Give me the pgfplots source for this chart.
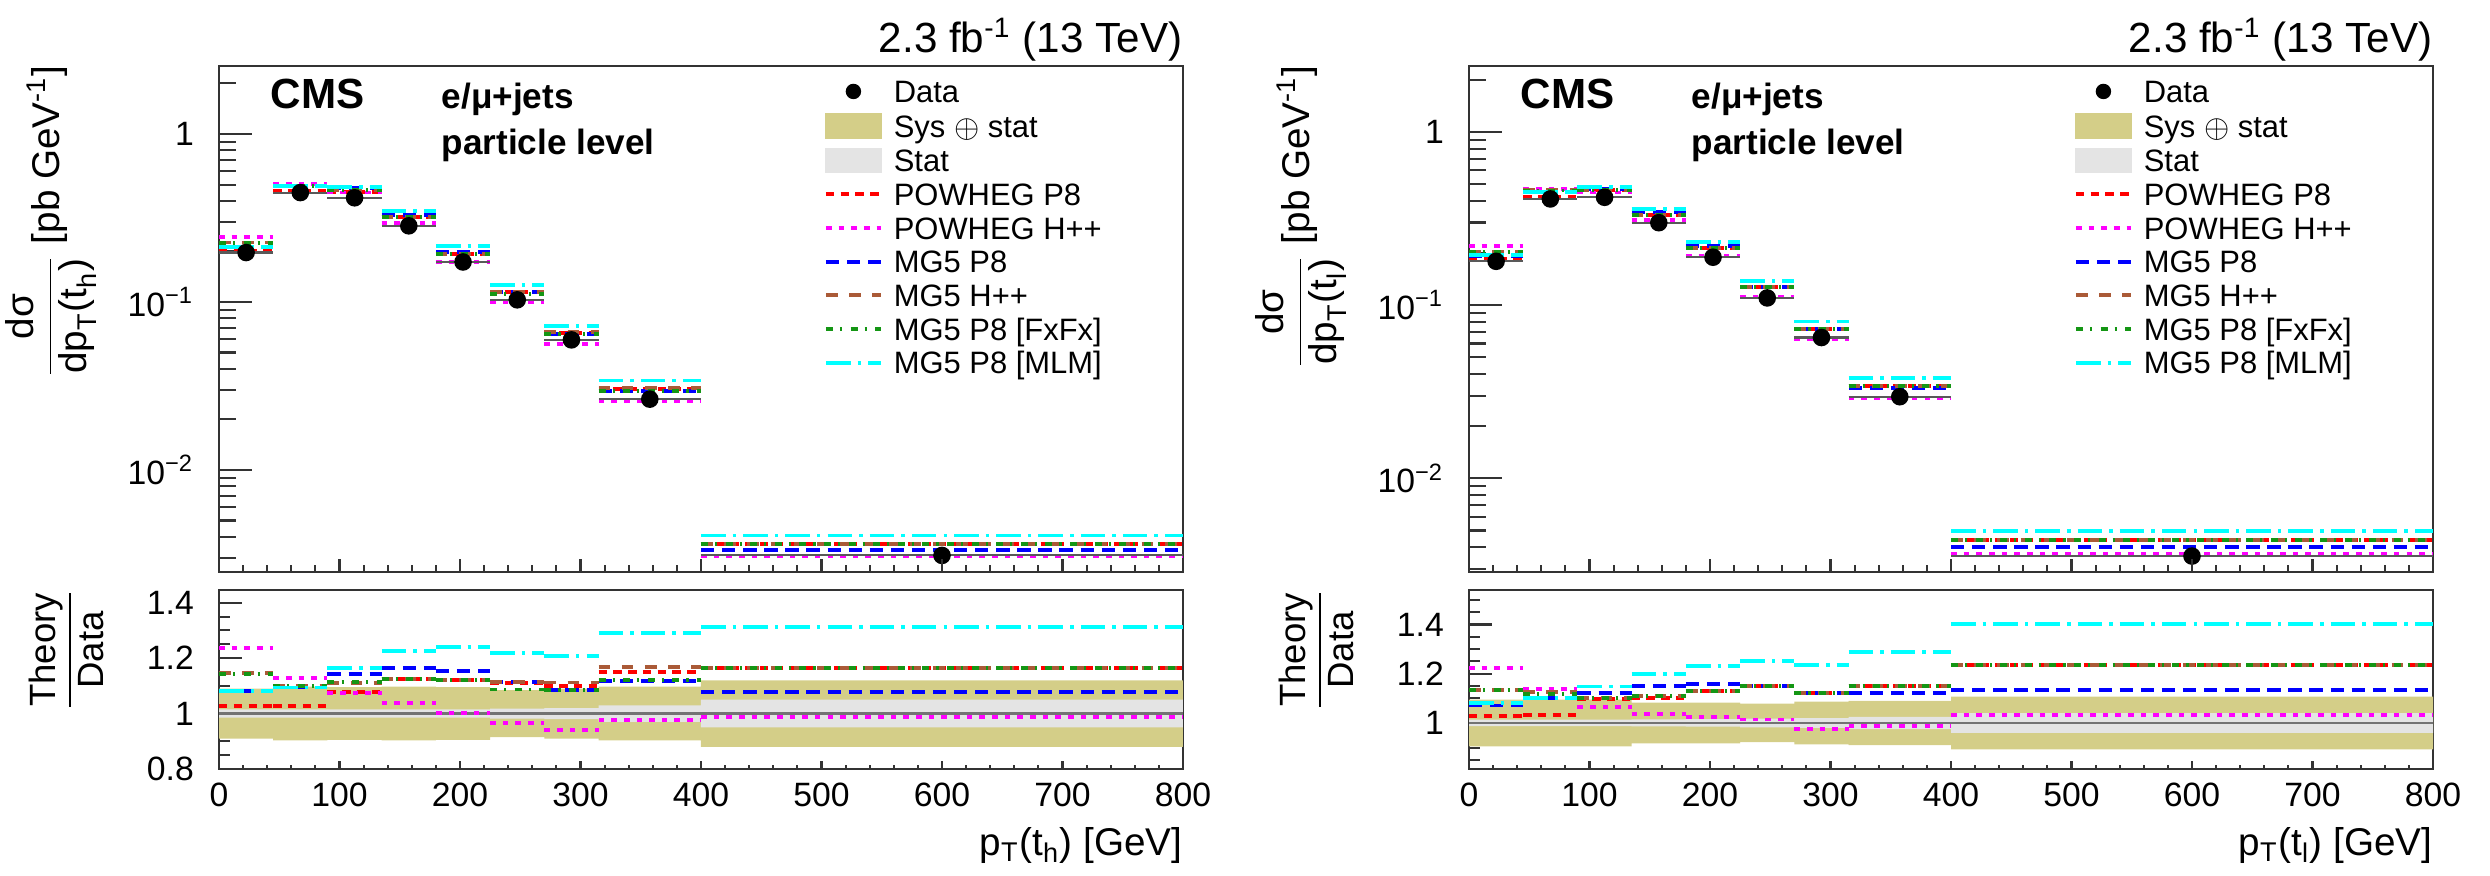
\documentclass[border=0pt]{standalone}
\usepackage{amsmath}
\usepackage{fontspec}
\setmainfont{Liberation Sans}
\usepackage{pgfplots}
\pgfplotsset{compat=1.18}

\definecolor{khaki}{RGB}{212,206,136}
\definecolor{statgray}{RGB}{228,228,228}
\definecolor{cmsred}{RGB}{255,0,0}
\definecolor{cmsmag}{RGB}{255,0,255}
\definecolor{cmsblue}{RGB}{0,0,255}
\definecolor{cmsbrown}{RGB}{170,90,55}
\definecolor{cmsgreen}{RGB}{20,150,20}
\definecolor{cmscyan}{RGB}{0,255,255}

\tikzset{
  powp8/.style={cmsred, line width=1.1pt, dash pattern=on 2.4pt off 1.8pt},
  powhw/.style={cmsmag, line width=1.1pt, dash pattern=on 1.6pt off 2pt},
  mgp8/.style={cmsblue, line width=1.1pt, dash pattern=on 3.8pt off 2.2pt},
  mghw/.style={cmsbrown, line width=1.1pt, dash pattern=on 3.3pt off 3.3pt},
  fxfx/.style={cmsgreen, line width=1.1pt, dash pattern=on 2pt off 2pt on 0.6pt off 2.4pt},
  mlm/.style={cmscyan, line width=1.1pt, dash pattern=on 7pt off 2pt on 1pt off 2pt},
}

\pgfplotsset{
  mybase/.style={
    scale only axis, width=96.4mm, xmin=0, xmax=800,
    axis line style={black!80, line width=0.7pt},
    tick style={black!80, line width=0.6pt},
    tick align=inside, xtick pos=left, ytick pos=left,
    tick label style={font=\fontsize{9.6}{11}\selectfont},
    yticklabel style={inner sep=0pt, xshift=-2.45mm},
    xticklabel style={inner sep=0pt, yshift=-1.35mm},
  },
}

\begin{document}
\begin{tikzpicture}
\path[use as bounding box] (0,0) rectangle (249mm,-87.6mm);

% ================= LEFT MAIN =================
\begin{axis}[mybase, at={(21.9mm,-6.6mm)}, anchor=north west,
  height=50.6mm, ymode=log, ymin=0.00247, ymax=2.54, xtick=\empty,
  ytick={0.01,0.1,1}, yticklabels={10\textsuperscript{−2},10\textsuperscript{−1},1},
  minor ytick={0.003,0.004,0.005,0.006,0.007,0.008,0.009,0.02,0.03,0.04,0.05,0.06,0.07,0.08,0.09,0.2,0.3,0.4,0.5,0.6,0.7,0.8,0.9,2},
  major tick length=3.3mm, minor tick length=1.7mm,
  legend style={draw=none, fill=none, inner sep=0pt, outer sep=0pt,
      at={(0.6276,0.9731)}, anchor=north west,
      font=\fontsize{8.8}{10}\selectfont,
      nodes={inner sep=0pt, text height=2.3mm, text depth=1.07mm},
      column sep=1.1mm, row sep=0pt},
  legend cell align=left,
  legend image code/.code={\draw[#1] (0cm,0.05cm) -- (0.55cm,0.05cm);}]
\addlegendimage{legend image code/.code={\fill[black] (0.275cm,0.05cm) circle (0.07cm);}}
\addlegendentry{Data}
\addlegendimage{legend image code/.code={\fill[khaki] (0cm,-0.07cm) rectangle (0.55cm,0.17cm);}}
\addlegendentry{Sys $\oplus$ stat}
\addlegendimage{legend image code/.code={\fill[statgray] (0cm,-0.07cm) rectangle (0.55cm,0.17cm);}}
\addlegendentry{Stat}
\addlegendimage{powp8}\addlegendentry{POWHEG P8}
\addlegendimage{powhw}\addlegendentry{POWHEG H++}
\addlegendimage{mgp8}\addlegendentry{MG5 P8}
\addlegendimage{mghw}\addlegendentry{MG5 H++}
\addlegendimage{fxfx}\addlegendentry{MG5 P8 [FxFx]}
\addlegendimage{mlm}\addlegendentry{MG5 P8 [MLM]}
\addplot[powp8, jump mark left, forget plot] coordinates {(0,0.2025)(45,0.4605)(90,0.4499)(135,0.3192)(180,0.1938)(225,0.1142)(270,0.0655)(315,0.0303)(400,0.00361)(800,0.00361)};
\addplot[powhw, jump mark left, forget plot] coordinates {(0,0.2435)(45,0.5058)(90,0.4483)(135,0.2951)(180,0.1733)(225,0.0995)(270,0.0559)(315,0.0258)(400,0.00306)(800,0.00306)};
\addplot[mgp8, jump mark left, forget plot] coordinates {(0,0.2134)(45,0.4901)(90,0.4766)(135,0.3309)(180,0.1995)(225,0.1148)(270,0.0646)(315,0.0295)(400,0.00334)(800,0.00334)};
\addplot[mghw, jump mark left, forget plot] coordinates {(0,0.2260)(45,0.4924)(90,0.4633)(135,0.3192)(180,0.1938)(225,0.1148)(270,0.0662)(315,0.0308)(400,0.00361)(800,0.00361)};
\addplot[fxfx, jump mark left, forget plot] coordinates {(0,0.2250)(45,0.4924)(90,0.4650)(135,0.3192)(180,0.1938)(225,0.1120)(270,0.0646)(315,0.0296)(400,0.00361)(800,0.00361)};
\addplot[mlm, jump mark left, forget plot] coordinates {(0,0.2130)(45,0.4901)(90,0.4858)(135,0.3482)(180,0.2143)(225,0.1257)(270,0.0719)(315,0.0341)(400,0.00407)(800,0.00407)};
\addplot[black!65, line width=0.6pt, jump mark left, forget plot] coordinates {(0,0.197)(45,0.448)(90,0.417)(135,0.284)(180,0.173)(225,0.103)(270,0.0595)(315,0.0264)(400,0.0031)(800,0.0031)};
\addplot[black, only marks, mark=*, mark size=2.3pt, forget plot] coordinates {(22.5,0.197)(67.5,0.448)(112.5,0.417)(157.5,0.284)(202.5,0.173)(247.5,0.103)(292.5,0.0595)(357.5,0.0264)(600,0.0031)};
\end{axis}
\begin{axis}[mybase, at={(21.9mm,-6.6mm)}, anchor=north west,
  height=50.6mm, ymode=log, ymin=0.00247, ymax=2.54, ytick=\empty, axis line style={draw=none},
  xtick={0,100,...,800}, minor x tick num=4, xticklabels={},
  major tick length=1.3mm, minor tick length=0.7mm]
\end{axis}

% ================= LEFT RATIO =================
\begin{axis}[mybase, at={(21.9mm,-59.0mm)}, anchor=north west,
  height=17.9mm, xtick=\empty, major tick length=2.3mm, minor tick length=1.1mm,
  ymin=0.8, ymax=1.446, ytick={0.8,1,1.2,1.4}, yticklabels={0.8,1,1.2,1.4},
  minor ytick={0.85,0.9,0.95,1.05,1.1,1.15,1.25,1.3,1.35}]
\addplot[fill=khaki, draw=none, forget plot] coordinates {(0,1.09)(45,1.09)(45,1.097)(90,1.097)(90,1.095)(135,1.095)(135,1.097)(180,1.097)(180,1.095)(225,1.095)(225,1.085)(270,1.085)(270,1.09)(315,1.09)(315,1.097)(400,1.097)(400,1.12)(800,1.12)(800,0.88)(400,0.88)(400,0.903)(315,0.903)(315,0.91)(270,0.91)(270,0.915)(225,0.915)(225,0.905)(180,0.905)(180,0.903)(135,0.903)(135,0.905)(90,0.905)(90,0.903)(45,0.903)(45,0.91)(0,0.91)} -- cycle;
\addplot[fill=statgray, draw=none, forget plot] coordinates {(0,1.015)(225,1.015)(225,1.018)(270,1.018)(270,1.02)(315,1.02)(315,1.03)(400,1.03)(400,1.05)(800,1.05)(800,0.95)(400,0.95)(400,0.97)(315,0.97)(315,0.98)(270,0.98)(270,0.982)(225,0.982)(225,0.985)(0,0.985)} -- cycle;
\addplot[black!55, line width=0.8pt, forget plot] coordinates {(0,1)(800,1)};
\addplot[powp8, jump mark left, forget plot] coordinates {(0,1.028)(45,1.028)(90,1.079)(135,1.124)(180,1.120)(225,1.109)(270,1.100)(315,1.149)(400,1.163)(800,1.163)};
\addplot[powhw, jump mark left, forget plot] coordinates {(0,1.236)(45,1.129)(90,1.075)(135,1.039)(180,1.002)(225,0.966)(270,0.940)(315,0.978)(400,0.988)(800,0.988)};
\addplot[mgp8, jump mark left, forget plot] coordinates {(0,1.083)(45,1.094)(90,1.143)(135,1.165)(180,1.153)(225,1.115)(270,1.085)(315,1.117)(400,1.079)(800,1.079)};
\addplot[mghw, jump mark left, forget plot] coordinates {(0,1.147)(45,1.099)(90,1.111)(135,1.124)(180,1.120)(225,1.115)(270,1.112)(315,1.167)(400,1.163)(800,1.163)};
\addplot[fxfx, jump mark left, forget plot] coordinates {(0,1.142)(45,1.099)(90,1.115)(135,1.124)(180,1.120)(225,1.087)(270,1.085)(315,1.121)(400,1.163)(800,1.163)};
\addplot[mlm, jump mark left, forget plot] coordinates {(0,1.081)(45,1.094)(90,1.165)(135,1.226)(180,1.239)(225,1.220)(270,1.209)(315,1.290)(400,1.312)(800,1.312)};
\end{axis}
\begin{axis}[mybase, at={(21.9mm,-59.0mm)}, anchor=north west,
  height=17.9mm, ymin=0.8, ymax=1.446, ytick=\empty, axis line style={draw=none},
  xtick={0,100,...,800}, minor x tick num=4,
  xticklabels={0,100,200,300,400,500,600,700,800},
  major tick length=0.8mm, minor tick length=0.4mm]
\end{axis}

% ================= RIGHT MAIN =================
\begin{axis}[mybase, at={(146.9mm,-6.6mm)}, anchor=north west,
  height=50.6mm, ymode=log, ymin=0.00288, ymax=2.40, xtick=\empty,
  ytick={0.01,0.1,1}, yticklabels={10\textsuperscript{−2},10\textsuperscript{−1},1},
  minor ytick={0.003,0.004,0.005,0.006,0.007,0.008,0.009,0.02,0.03,0.04,0.05,0.06,0.07,0.08,0.09,0.2,0.3,0.4,0.5,0.6,0.7,0.8,0.9,2},
  major tick length=3.3mm, minor tick length=1.7mm,
  legend style={draw=none, fill=none, inner sep=0pt, outer sep=0pt,
      at={(0.6276,0.9731)}, anchor=north west,
      font=\fontsize{8.8}{10}\selectfont,
      nodes={inner sep=0pt, text height=2.3mm, text depth=1.07mm},
      column sep=1.1mm, row sep=0pt},
  legend cell align=left,
  legend image code/.code={\draw[#1] (0cm,0.05cm) -- (0.55cm,0.05cm);}]
\addlegendimage{legend image code/.code={\fill[black] (0.275cm,0.05cm) circle (0.07cm);}}
\addlegendentry{Data}
\addlegendimage{legend image code/.code={\fill[khaki] (0cm,-0.07cm) rectangle (0.55cm,0.17cm);}}
\addlegendentry{Sys $\oplus$ stat}
\addlegendimage{legend image code/.code={\fill[statgray] (0cm,-0.07cm) rectangle (0.55cm,0.17cm);}}
\addlegendentry{Stat}
\addlegendimage{powp8}\addlegendentry{POWHEG P8}
\addlegendimage{powhw}\addlegendentry{POWHEG H++}
\addlegendimage{mgp8}\addlegendentry{MG5 P8}
\addlegendimage{mghw}\addlegendentry{MG5 H++}
\addlegendimage{fxfx}\addlegendentry{MG5 P8 [FxFx]}
\addlegendimage{mlm}\addlegendentry{MG5 P8 [MLM]}
\addplot[powp8, jump mark left, forget plot] coordinates {(0,0.1838)(45,0.4239)(90,0.4592)(135,0.3298)(180,0.2136)(225,0.1266)(270,0.0730)(315,0.0341)(400,0.00440)(800,0.00440)};
\addplot[powhw, jump mark left, forget plot] coordinates {(0,0.2187)(45,0.4662)(90,0.4467)(135,0.3104)(180,0.1933)(225,0.1115)(270,0.0635)(315,0.0292)(400,0.00367)(800,0.00367)};
\addplot[mgp8, jump mark left, forget plot] coordinates {(0,0.1917)(45,0.4522)(90,0.4705)(135,0.3441)(180,0.2189)(225,0.1266)(270,0.0730)(315,0.0332)(400,0.00403)(800,0.00403)};
\addplot[mghw, jump mark left, forget plot] coordinates {(0,0.2028)(45,0.4621)(90,0.4609)(135,0.3319)(180,0.2136)(225,0.1266)(270,0.0730)(315,0.0341)(400,0.00440)(800,0.00440)};
\addplot[fxfx, jump mark left, forget plot] coordinates {(0,0.2028)(45,0.4588)(90,0.4609)(135,0.3319)(180,0.2136)(225,0.1266)(270,0.0730)(315,0.0341)(400,0.00440)(800,0.00440)};
\addplot[mlm, jump mark left, forget plot] coordinates {(0,0.1937)(45,0.4522)(90,0.4810)(135,0.3585)(180,0.2325)(225,0.1376)(270,0.0804)(315,0.0381)(400,0.00499)(800,0.00499)};
\addplot[black!65, line width=0.6pt, jump mark left, forget plot] coordinates {(0,0.179)(45,0.410)(90,0.419)(135,0.299)(180,0.189)(225,0.110)(270,0.065)(315,0.0296)(400,0.00356)(800,0.00356)};
\addplot[black, only marks, mark=*, mark size=2.3pt, forget plot] coordinates {(22.5,0.179)(67.5,0.410)(112.5,0.419)(157.5,0.299)(202.5,0.189)(247.5,0.110)(292.5,0.065)(357.5,0.0296)(600,0.00356)};
\end{axis}
\begin{axis}[mybase, at={(146.9mm,-6.6mm)}, anchor=north west,
  height=50.6mm, ymode=log, ymin=0.00288, ymax=2.40, ytick=\empty, axis line style={draw=none},
  xtick={0,100,...,800}, minor x tick num=4, xticklabels={},
  major tick length=1.3mm, minor tick length=0.7mm]
\end{axis}

% ================= RIGHT RATIO =================
\begin{axis}[mybase, at={(146.9mm,-59.0mm)}, anchor=north west,
  height=17.9mm, xtick=\empty, major tick length=2.3mm, minor tick length=1.1mm,
  ymin=0.813, ymax=1.54, ytick={1,1.2,1.4}, yticklabels={1,1.2,1.4},
  minor ytick={0.85,0.9,0.95,1.05,1.1,1.15,1.25,1.3,1.35,1.45,1.5}]
\addplot[fill=khaki, draw=none, forget plot] coordinates {(0,1.095)(135,1.095)(135,1.083)(225,1.083)(225,1.078)(270,1.078)(270,1.087)(315,1.087)(315,1.09)(400,1.09)(400,1.107)(800,1.107)(800,0.893)(400,0.893)(400,0.91)(315,0.91)(315,0.913)(270,0.913)(270,0.922)(225,0.922)(225,0.917)(135,0.917)(135,0.905)(0,0.905)} -- cycle;
\addplot[fill=statgray, draw=none, forget plot] coordinates {(0,1.013)(135,1.013)(135,1.014)(180,1.014)(180,1.015)(225,1.015)(225,1.018)(270,1.018)(270,1.02)(315,1.02)(315,1.025)(400,1.025)(400,1.04)(800,1.04)(800,0.96)(400,0.96)(400,0.975)(315,0.975)(315,0.98)(270,0.98)(270,0.982)(225,0.982)(225,0.985)(180,0.985)(180,0.986)(135,0.986)(135,0.987)(0,0.987)} -- cycle;
\addplot[black!55, line width=0.8pt, forget plot] coordinates {(0,1)(800,1)};
\addplot[powp8, jump mark left, forget plot] coordinates {(0,1.027)(45,1.034)(90,1.096)(135,1.103)(180,1.130)(225,1.151)(270,1.123)(315,1.151)(400,1.237)(800,1.237)};
\addplot[powhw, jump mark left, forget plot] coordinates {(0,1.222)(45,1.137)(90,1.066)(135,1.038)(180,1.023)(225,1.014)(270,0.977)(315,0.986)(400,1.032)(800,1.032)};
\addplot[mgp8, jump mark left, forget plot] coordinates {(0,1.071)(45,1.103)(90,1.123)(135,1.151)(180,1.158)(225,1.151)(270,1.123)(315,1.123)(400,1.133)(800,1.133)};
\addplot[mghw, jump mark left, forget plot] coordinates {(0,1.133)(45,1.127)(90,1.100)(135,1.110)(180,1.130)(225,1.151)(270,1.123)(315,1.151)(400,1.237)(800,1.237)};
\addplot[fxfx, jump mark left, forget plot] coordinates {(0,1.133)(45,1.119)(90,1.100)(135,1.110)(180,1.130)(225,1.151)(270,1.123)(315,1.151)(400,1.237)(800,1.237)};
\addplot[mlm, jump mark left, forget plot] coordinates {(0,1.082)(45,1.103)(90,1.148)(135,1.199)(180,1.230)(225,1.251)(270,1.237)(315,1.288)(400,1.401)(800,1.401)};
\end{axis}
\begin{axis}[mybase, at={(146.9mm,-59.0mm)}, anchor=north west,
  height=17.9mm, ymin=0.813, ymax=1.54, ytick=\empty, axis line style={draw=none},
  xtick={0,100,...,800}, minor x tick num=4,
  xticklabels={0,100,200,300,400,500,600,700,800},
  major tick length=0.8mm, minor tick length=0.4mm]
\end{axis}

% ================= TEXTS =================
\foreach \dx/\sub in {0mm/h,125mm/l}{
  \begin{scope}[xshift=\dx]
  \node[anchor=base east, inner sep=0pt, font=\fontsize{12}{14}\selectfont] at (118.3mm,-5.3mm) {2.3 fb\textsuperscript{-1} (13 TeV)};
  \node[anchor=base west, inner sep=0pt, font=\fontsize{12}{14}\selectfont\bfseries] at (27.0mm,-10.9mm) {CMS};
  \node[anchor=base west, inner sep=0pt, font=\fontsize{10}{12}\selectfont\bfseries] at (44.1mm,-10.9mm) {e/μ+jets};
  \node[anchor=base west, inner sep=0pt, font=\fontsize{10}{12}\selectfont\bfseries] at (44.1mm,-15.5mm) {particle level};
  \node[rotate=90, anchor=east, inner sep=0pt, font=\fontsize{11}{13}\selectfont] at (5.1mm,-6.5mm)
    {$\dfrac{\text{dσ}}{\text{dp}_{\text{T}}\text{(t}_{\text{\sub}}\text{)}}$ [pb GeV\textsuperscript{-1}]};
  \node[rotate=90, anchor=east, inner sep=0pt, font=\fontsize{10.4}{12}\selectfont] at (6.6mm,-58.8mm)
    {$\dfrac{\text{Theory}}{\text{Data}}$};
  \node[anchor=base east, inner sep=0pt, font=\fontsize{11}{13}\selectfont] at (118.3mm,-85.6mm)
    {p\textsubscript{T}(t\textsubscript{\sub}) [GeV]};
  \end{scope}
}
\end{tikzpicture}
\end{document}
